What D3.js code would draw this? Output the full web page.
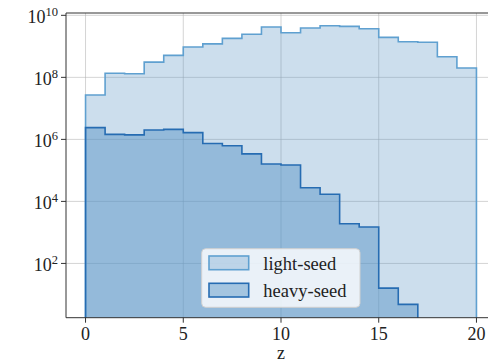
<!DOCTYPE html>
<html>
<head>
<meta charset="utf-8">
<script src="https://cdn.jsdelivr.net/npm/d3@7"></script>
<style>
  body { margin: 0; background: #fff; }
</style>
</head>
<body>
<div id="chart"></div>
<script>
// bin edges 0..20, one value per bin
const binEdges = d3.range(0, 21);
const lightSeed = [2.7e7, 1.35e8, 1.3e8, 3.1e8, 5.1e8, 9.5e8, 1.2e9, 1.8e9, 2.45e9, 4.2e9,
                   2.75e9, 3.9e9, 4.6e9, 4.4e9, 3.7e9, 1.95e9, 1.4e9, 1.35e9, 4.6e8, 2.0e8];
const heavySeed = [2.4e6, 1.45e6, 1.4e6, 2.0e6, 2.1e6, 1.65e6, 7.4e5, 6.2e5, 3.4e5, 1.6e5,
                   1.5e5, 2.75e4, 1.7e4, 1.9e3, 1.5e3, 16, 4.8, 0, 0, 0];
const xTicks = [0, 5, 10, 15, 20];
const yTickExp = [2, 4, 6, 8, 10];
const seriesNames = ["light-seed", "heavy-seed"];

const width = 488, height = 363;
const pLeft = 66, pRight = 496, pTop = 13, pBottom = 317.7;
const font = "'Liberation Serif', 'DejaVu Serif', serif";

const svg = d3.select("#chart").append("svg")
    .attr("width", width)
    .attr("height", height)
    .attr("font-family", font);

const x = d3.scaleLinear().domain([-1, 21]).range([pLeft, pRight]);
const y = d3.scaleLog().domain([Math.pow(10, 0.25), Math.pow(10, 10.075)]).range([pBottom, pTop]);

const plot = svg.append("g");
svg.append("clipPath").attr("id", "clip")
  .append("rect").attr("x", pLeft).attr("y", pTop).attr("width", pRight - pLeft).attr("height", pBottom - pTop);

// grid
plot.selectAll(".gx").data(xTicks).join("line")
    .attr("x1", d => x(d)).attr("x2", d => x(d))
    .attr("y1", pTop).attr("y2", pBottom)
    .attr("stroke", "#b0b0b0").attr("stroke-opacity", 0.55).attr("stroke-width", 1);
plot.selectAll(".gy").data(yTickExp).join("line")
    .attr("x1", pLeft).attr("x2", pRight)
    .attr("y1", d => y(Math.pow(10, d))).attr("y2", d => y(Math.pow(10, d)))
    .attr("stroke", "#b0b0b0").attr("stroke-opacity", 0.55).attr("stroke-width", 1);

// step outline for a histogram
function stepPoints(vals) {
  const yv = v => v > 0 ? y(v) : pBottom + 20;
  const pts = [[x(binEdges[0]), pBottom + 20]];
  vals.forEach((v, i) => {
    pts.push([x(binEdges[i]), yv(v)]);
    pts.push([x(binEdges[i + 1]), yv(v)]);
  });
  pts.push([x(binEdges[binEdges.length - 1]), pBottom + 20]);
  return pts;
}
const line = d3.line();

const series = [
  { vals: lightSeed, fill: "rgb(85,147,197)", fo: 0.3, stroke: "rgb(95,160,208)" },
  { vals: heavySeed, fill: "rgb(85,147,197)", fo: 0.47, stroke: "rgb(38,108,178)" }
];

const hg = svg.append("g").attr("clip-path", "url(#clip)");
series.forEach(s => {
  const pts = stepPoints(s.vals);
  hg.append("path").attr("d", line(pts) + "Z")
    .attr("fill", s.fill).attr("fill-opacity", s.fo).attr("stroke", "none");
  hg.append("path").attr("d", line(pts))
    .attr("fill", "none").attr("stroke", s.stroke).attr("stroke-width", 1.6);
});

// spines
svg.append("line").attr("x1", pLeft).attr("x2", pLeft).attr("y1", pTop).attr("y2", pBottom)
   .attr("stroke", "#333").attr("stroke-width", 1);
svg.append("line").attr("x1", pLeft).attr("x2", pRight).attr("y1", pBottom).attr("y2", pBottom)
   .attr("stroke", "#333").attr("stroke-width", 1);
svg.append("line").attr("x1", pLeft).attr("x2", pRight).attr("y1", pTop).attr("y2", pTop)
   .attr("stroke", "#333").attr("stroke-width", 1);

// x axis
const xAxis = svg.append("g").attr("transform", `translate(0,${pBottom})`);
xAxis.selectAll("line").data(xTicks).join("line")
    .attr("x1", d => x(d)).attr("x2", d => x(d)).attr("y1", 0).attr("y2", 5)
    .attr("stroke", "#333");
xAxis.selectAll("text").data(xTicks).join("text")
    .attr("x", d => x(d)).attr("y", 22.5)
    .attr("text-anchor", "middle").attr("font-size", 18).attr("fill", "#222")
    .text(d => d);
svg.append("text").attr("x", x(10)).attr("y", 358.5)
    .attr("text-anchor", "middle").attr("font-size", 18).attr("fill", "#222").text("z");

// y axis
const yAxis = svg.append("g");
yAxis.selectAll("line").data(yTickExp).join("line")
    .attr("x1", pLeft - 5).attr("x2", pLeft)
    .attr("y1", d => y(Math.pow(10, d))).attr("y2", d => y(Math.pow(10, d)))
    .attr("stroke", "#333");
yTickExp.forEach(e => {
  const t = yAxis.append("text")
    .attr("x", 58).attr("y", y(Math.pow(10, e)) + 7.3)
    .attr("text-anchor", "end").attr("font-size", 18).attr("fill", "#222");
  t.append("tspan").text("10");
  t.append("tspan").attr("dy", -6.5).attr("font-size", 12.5).text(e);
});

// legend
const lg = svg.append("g");
lg.append("rect").attr("x", 201.7).attr("y", 248.7).attr("width", 158.3).attr("height", 58.6)
  .attr("rx", 4).attr("fill", "#fff").attr("fill-opacity", 0.8)
  .attr("stroke", "#d0d0d0").attr("stroke-width", 1);
series.forEach((s, i) => {
  const yy = 256 + i * 27.3;
  lg.append("rect").attr("x", 209).attr("y", yy).attr("width", 39.7).attr("height", 13.7)
    .attr("fill", s.fill).attr("fill-opacity", s.fo)
    .attr("stroke", s.stroke).attr("stroke-width", 1.6);
  lg.append("text").attr("x", 263.3).attr("y", yy + 14)
    .attr("font-size", 18.5).attr("fill", "#222").text(seriesNames[i]);
});
</script>
</body>
</html>
